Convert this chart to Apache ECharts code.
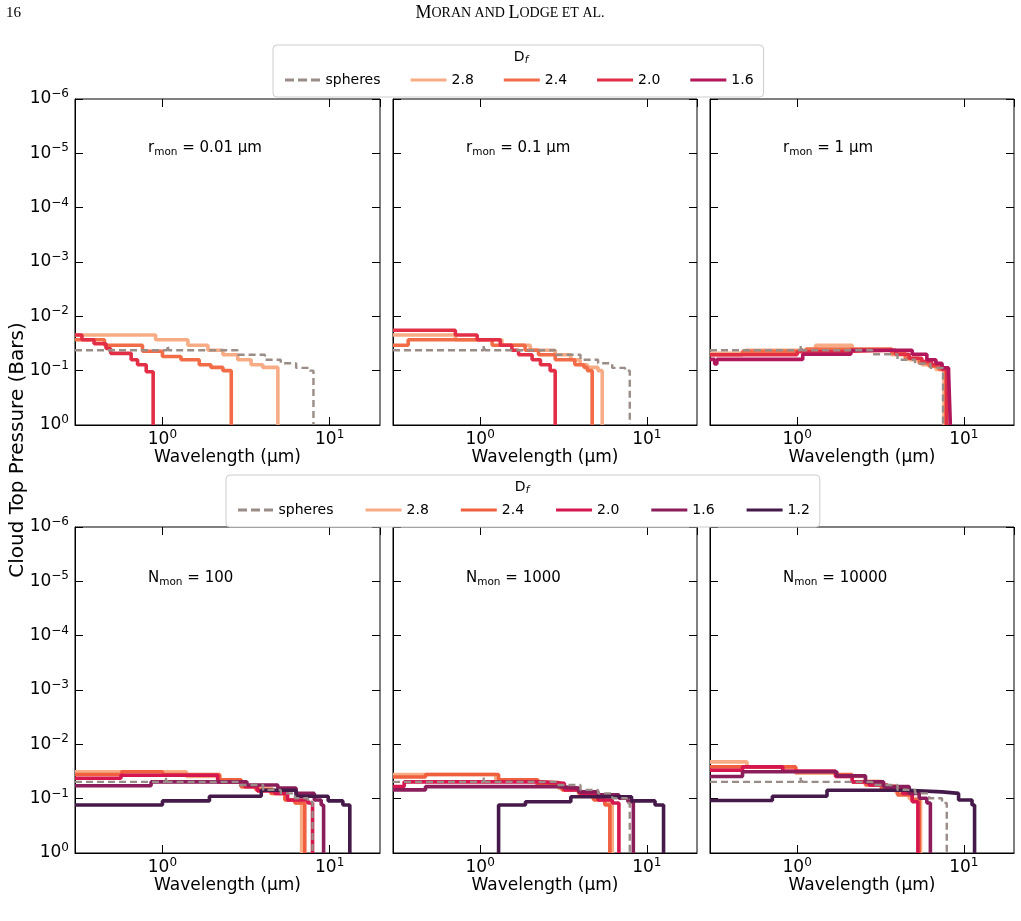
<!DOCTYPE html>
<html><head><meta charset="utf-8">
<script src="https://cdn.jsdelivr.net/npm/echarts@6/dist/echarts.min.js"></script>
<style>html,body{margin:0;padding:0;background:#fff}#c{width:1021px;height:921px}</style>
</head><body><div id="c"></div>
<script>
// ---- data: [wavelength (µm), cloud-top pressure (bar)] step breakpoints ----
const p1_sph=[[0.3,0.042],[1.07,0.034],[1.09,0.042],[2.82,0.051],[4.1,0.063],[5.1,0.073],[6.3,0.089],[7.6,0.1],[8.0,1]];
const p1_28=[[0.3,0.022],[0.91,0.027],[1.42,0.034],[1.87,0.042],[2.3,0.051],[2.82,0.063],[3.39,0.078],[3.98,0.087],[4.9,1]];
const p1_24=[[0.3,0.027],[0.45,0.034],[0.76,0.044],[1.0,0.055],[1.29,0.063],[1.66,0.078],[1.95,0.087],[2.3,0.1],[2.58,1]];
const p1_20=[[0.3,0.022],[0.33,0.027],[0.39,0.032],[0.46,0.039],[0.49,0.048],[0.65,0.063],[0.71,0.078],[0.8,0.105],[0.88,1]];
const p2_sph=[[0.3,0.042],[1.05,0.034],[1.07,0.042],[2.82,0.051],[4.0,0.063],[5.1,0.073],[6.2,0.089],[7.4,0.1],[7.9,1]];
const p2_28=[[0.3,0.022],[0.71,0.027],[1.35,0.034],[2.0,0.042],[2.82,0.051],[3.5,0.063],[3.98,0.078],[4.4,0.087],[5.1,0.1],[5.4,1]];
const p2_24=[[0.3,0.034],[0.37,0.027],[1.18,0.034],[1.86,0.042],[2.24,0.051],[2.82,0.063],[3.7,0.078],[4.2,0.087],[4.4,0.1],[4.7,1]];
const p2_20=[[0.3,0.018],[0.71,0.022],[0.96,0.027],[1.32,0.034],[1.55,0.042],[1.7,0.051],[2.05,0.063],[2.3,0.078],[2.63,0.1],[2.82,1]];
const p3_sph=[[0.3,0.042],[1.05,0.034],[1.07,0.042],[2.82,0.05],[4.0,0.063],[5.1,0.074],[6.3,0.089],[7.5,1]];
const p3_28=[[0.3,0.048],[0.49,0.042],[1.29,0.034],[2.14,0.042],[3.7,0.051],[4.7,0.063],[5.6,0.078],[6.8,0.095],[7.6,1]];
const p3_24=[[0.3,0.051],[0.47,0.044],[1.13,0.040],[3.7,0.048],[4.45,0.059],[5.4,0.073],[6.2,0.083],[7.1,0.095],[7.8,1]];
const p3_20=[[0.3,0.051],[1.0,0.045],[1.62,0.042],[3.9,0.05],[4.7,0.059],[5.6,0.068],[6.4,0.078],[7.4,0.095],[7.9,1]];
const p3_16=[[0.3,0.062],[0.32,0.075],[0.33,0.062],[1.08,0.05],[2.1,0.042],[4.9,0.05],[6.0,0.063],[6.8,0.073],[7.4,0.089],[8.1,0.105],[8.3,1]];
const p4_sph=[[0.3,0.049],[1.05,0.040],[1.07,0.049],[2.89,0.056],[4.0,0.069],[5.1,0.080],[6.2,0.098],[7.4,0.114],[7.9,1]];
const p4_28=[[0.3,0.032],[1.39,0.039],[2.2,0.045],[2.95,0.060],[3.7,0.065],[4.55,0.080],[5.4,0.106],[6.2,0.12],[6.8,1]];
const p4_24=[[0.3,0.036],[0.57,0.032],[1.0,0.036],[2.2,0.045],[2.95,0.060],[3.63,0.069],[4.45,0.080],[5.4,0.106],[6.2,0.12],[7.1,1]];
const p4_20=[[0.3,0.042],[0.565,0.037],[2.14,0.049],[3.1,0.060],[3.7,0.072],[4.7,0.080],[5.6,0.106],[7.4,0.12],[7.9,1]];
const p4_16=[[0.3,0.058],[0.855,0.049],[3.2,0.056],[4.9,0.064],[6.3,0.080],[8.1,0.106],[8.9,0.131],[9.2,1]];
const p4_12=[[0.3,0.131],[1.0,0.11],[1.91,0.09],[3.9,0.07],[6.3,0.09],[9.8,0.11],[12.0,0.131],[13.2,1]];
const p5_sph=[[0.3,0.049],[1.05,0.040],[1.07,0.049],[2.89,0.056],[4.0,0.069],[5.1,0.080],[6.2,0.098],[7.6,0.12],[7.9,1]];
const p5_28=[[0.3,0.036],[1.24,0.045],[2.24,0.050],[2.95,0.064],[3.9,0.08],[4.7,0.098],[5.6,0.12],[6.2,1]];
const p5_24=[[0.3,0.040],[0.47,0.036],[1.29,0.045],[2.2,0.056],[3.1,0.069],[3.9,0.08],[4.8,0.106],[5.6,0.131],[6.0,1]];
const p5_20=[[0.3,0.060],[0.35,0.049],[2.35,0.052],[3.2,0.069],[4.0,0.08],[5.1,0.106],[6.2,0.12],[6.8,1]];
const p5_16=[[0.3,0.069],[0.47,0.060],[2.95,0.064],[3.9,0.075],[5.1,0.085],[6.8,0.098],[7.7,0.114],[8.3,1]];
const p5_12=[[1.29,1],[1.29,0.131],[1.87,0.114],[3.5,0.092],[8.1,0.11],[11.2,0.131],[12.6,1]];
const p6_sph=[[0.3,0.049],[1.05,0.040],[1.07,0.049],[2.82,0.056],[4.0,0.069],[5.1,0.080],[6.2,0.098],[7.4,0.12],[7.9,1]];
const p6_28=[[0.3,0.021],[0.50,0.026],[0.98,0.034],[1.7,0.039],[2.57,0.048],[3.2,0.058],[3.9,0.075],[4.7,0.10],[5.5,1]];
const p6_24=[[0.3,0.026],[0.98,0.032],[1.7,0.036],[2.14,0.049],[2.57,0.056],[3.2,0.069],[4.0,0.085],[4.9,0.106],[5.4,1]];
const p6_20=[[0.3,0.030],[0.47,0.026],[0.82,0.031],[1.7,0.039],[2.14,0.049],[2.7,0.056],[3.5,0.069],[4.3,0.08],[4.9,0.114],[5.3,1]];
const p6_16=[[0.3,0.039],[0.47,0.032],[1.73,0.038],[2.57,0.049],[3.3,0.06],[4.7,0.08],[5.4,0.098],[6.0,0.12],[6.3,1]];
const p6_12=[[0.3,0.108],[0.71,0.09],[1.51,0.07],[4.55,0.075],[7.4,0.08],[9.3,0.106],[11.2,0.131],[11.6,1]];

const dfNames=['spheres','2.8','2.4','2.0','1.6','1.2'];
const topVals=['0.01 µm','0.1 µm','1 µm'];
const botVals=['100','1000','10000'];

const colTop={'spheres':'#9a8c86','2.8':'#f8ac86','2.4':'#f26d47','2.0':'#e32f46','1.6':'#b1175a'};
const colBot={'spheres':'#9a8c86','2.8':'#f8ac86','2.4':'#f0603f','2.0':'#d5164f','1.6':'#8c1d5b','1.2':'#451a4a'};

const panels=[
 {left:75,top:99,w:305,row:'t',series:{'spheres':p1_sph,'2.8':p1_28,'2.4':p1_24,'2.0':p1_20}},
 {left:393,top:99,w:304,row:'t',series:{'spheres':p2_sph,'2.8':p2_28,'2.4':p2_24,'2.0':p2_20}},
 {left:710,top:99,w:304,row:'t',series:{'spheres':p3_sph,'2.8':p3_28,'2.4':p3_24,'2.0':p3_20,'1.6':p3_16}},
 {left:75,top:527,w:305,row:'b',series:{'spheres':p4_sph,'2.8':p4_28,'2.4':p4_24,'2.0':p4_20,'1.6':p4_16,'1.2':p4_12}},
 {left:393,top:527,w:304,row:'b',series:{'spheres':p5_sph,'2.8':p5_28,'2.4':p5_24,'2.0':p5_20,'1.6':p5_16,'1.2':p5_12}},
 {left:710,top:527,w:304,row:'b',series:{'spheres':p6_sph,'2.8':p6_28,'2.4':p6_24,'2.0':p6_20,'1.6':p6_16,'1.2':p6_12}}
];
const H=326;
const FF='DejaVu Sans';
const sup={fontSize:12,verticalAlign:'bottom',padding:[0,0,10,0],fontFamily:FF,color:'#000'};
const base={fontSize:17,fontFamily:FF,color:'#000'};
function pow10(v){const e=Math.round(Math.log10(v));if(Math.abs(Math.log10(v)-e)>1e-6)return '';return '{b|10}{s|'+(e<0?'−'+(-e):e)+'}';}

const grid=[],xAxis=[],yAxis=[],series=[];
const tick={inside:true,length:8,lineStyle:{color:'#000'}};
panels.forEach((p,i)=>{
  grid.push({left:p.left,top:p.top,width:p.w,height:H,show:true,borderColor:'#000',borderWidth:1,backgroundColor:'transparent'});
  xAxis.push({type:'log',gridIndex:i,min:0.3,max:20,name:'Wavelength (µm)',nameLocation:'middle',nameGap:22,
    nameTextStyle:{fontSize:17,fontFamily:FF,color:'#000'},
    axisLine:{lineStyle:{color:'#000'}},axisTick:tick,splitLine:{show:false},
    axisLabel:{showMinLabel:false,showMaxLabel:false,margin:4,formatter:v=>pow10(v),rich:{b:base,s:sup}}});
  yAxis.push({type:'log',gridIndex:i,min:1e-6,max:1,inverse:true,
    axisLine:{lineStyle:{color:'#000'}},axisTick:tick,splitLine:{show:false},
    axisLabel:{show:i%3===0,margin:6,formatter:v=>pow10(v),rich:{b:base,s:sup}}});
  const cols=p.row==='t'?colTop:colBot;
  Object.keys(p.series).forEach(k=>{
    series.push({type:'line',name:p.row+':'+k,xAxisIndex:i,yAxisIndex:i,data:p.series[k],step:'end',symbol:'none',
      lineStyle:{color:cols[k],width:k==='spheres'?2.4:3.6,type:k==='spheres'?[7,4]:'solid'},itemStyle:{color:cols[k]},
      z:k==='spheres'?3:2,animation:false});
  });
});
// mirrored ticks on top and right
panels.forEach((p,i)=>{
  xAxis.push({type:'log',gridIndex:i,min:0.3,max:20,position:'top',axisLine:{show:false},axisTick:tick,axisLabel:{show:false},splitLine:{show:false}});
  yAxis.push({type:'log',gridIndex:i,min:1e-6,max:1,inverse:true,position:'right',axisLine:{show:false},axisTick:tick,axisLabel:{show:false},splitLine:{show:false}});
});
const dashIcon='path://M0,0h9v3h-9z M13,0h9v3h-9z M26,0h9v3h-9z';
const solidIcon='path://M0,0h36v3h-36z';
function legData(row,names){const cols=row==='t'?colTop:colBot;
  return names.map(n=>({name:row+':'+n,icon:n==='spheres'?dashIcon:solidIcon,itemStyle:{color:cols[n]}}));}
const legCommon={itemWidth:36,itemHeight:3,textStyle:{fontSize:14,fontFamily:FF,color:'#000'},formatter:n=>n.slice(2),
  borderColor:'#ccc',borderWidth:1,borderRadius:4,selectedMode:false,backgroundColor:'#fff'};
const option={animation:false,
 grid,xAxis,yAxis,series,
 legend:[
  Object.assign({},legCommon,{data:legData('t',['spheres','2.8','2.4','2.0','1.6']),left:273,top:45,padding:[28,10,10,12],itemGap:30}),
  Object.assign({},legCommon,{data:legData('b',dfNames),left:226,top:475,padding:[28,10,10,12],itemGap:32})
 ],
 graphic:[
  {type:'text',left:6,top:6,style:{text:'16',fontSize:15,fontFamily:'Liberation Serif',fill:'#000'}},
  {type:'text',x:510,y:4,style:{text:'{a|M}{b|ORAN AND }{a|L}{b|ODGE ET AL.}',align:'center',fontFamily:'Liberation Serif',fill:'#000',
    rich:{a:{fontSize:18,fontFamily:'Liberation Serif'},b:{fontSize:14,fontFamily:'Liberation Serif'}}}},
  {type:'text',x:521,y:49,style:{text:'{a|D}{b|f}',align:'center',rich:{a:{fontSize:14,fontFamily:FF},b:{fontSize:10,fontFamily:FF,fontStyle:'italic',verticalAlign:'bottom',padding:[6,0,0,0]}}},z:100},
  {type:'text',x:522,y:479,style:{text:'{a|D}{b|f}',align:'center',rich:{a:{fontSize:14,fontFamily:FF},b:{fontSize:10,fontFamily:FF,fontStyle:'italic',verticalAlign:'bottom',padding:[6,0,0,0]}}},z:100},
  {type:'text',x:8,y:450,rotation:Math.PI/2,style:{text:'Cloud Top Pressure (Bars)',align:'center',verticalAlign:'top',fontSize:20,fontFamily:FF,fill:'#000'}},
  ...panels.map((p,i)=>({type:'text',x:p.left+73,y:p.top+(i<3?40:42),style:{
    text:(i<3?'{a|r}{s|mon}{a| = '+topVals[i]+'}':'{a|N}{s|mon}{a| = '+botVals[i-3]+'}'),
    rich:{a:{fontSize:15,fontFamily:FF},s:{fontSize:10.5,fontFamily:FF,verticalAlign:'bottom',padding:[8,0,0,0]}}}}))
 ]
};
const ch=echarts.init(document.getElementById('c'),null,{renderer:'canvas'});
ch.setOption(option);
</script></body></html>
